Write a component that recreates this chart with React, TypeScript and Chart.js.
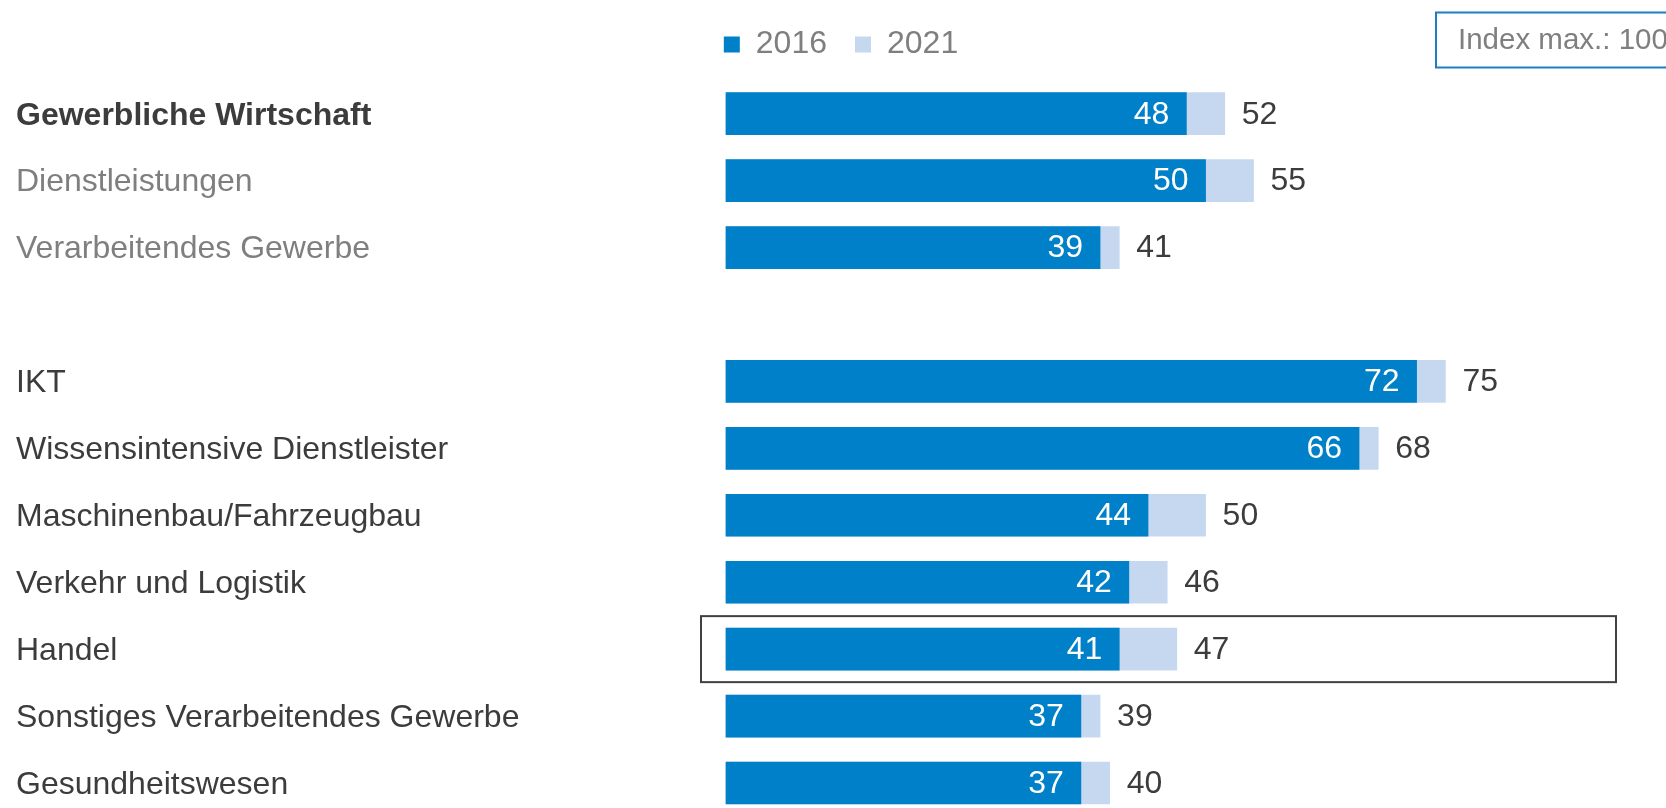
import React, { useEffect, useRef } from "react";
import { Chart, registerables } from "chart.js";

Chart.register(...registerables);

const categories = [
  "Gewerbliche Wirtschaft",
  "Dienstleistungen",
  "Verarbeitendes Gewerbe",
  "",
  "IKT",
  "Wissensintensive Dienstleister",
  "Maschinenbau/Fahrzeugbau",
  "Verkehr und Logistik",
  "Handel",
  "Sonstiges Verarbeitendes Gewerbe",
  "Gesundheitswesen",
];
const values2016: (number | null)[] = [48, 50, 39, null, 72, 66, 44, 42, 41, 37, 37];
const values2021: (number | null)[] = [52, 55, 41, null, 75, 68, 50, 46, 47, 39, 40];
const seriesLabels = ["2016", "2021"];
const highlightCategory = "Handel";
const indexNote = "Index max.: 100";

const FONT = "'Liberation Sans', Arial, sans-serif";
const BLUE = "#0080C8";
const LIGHT = "#C5D8F0";
const DARK = "#3C3C3C";
const GRAY = "#7F7F7F";

const overlayPlugin = {
  id: "overlay",
  afterDatasetsDraw(chart: any) {
    const ctx = chart.ctx;
    const m0 = chart.getDatasetMeta(0);
    const m1 = chart.getDatasetMeta(1);
    ctx.save();
    ctx.font = `32px ${FONT}`;
    ctx.textBaseline = "middle";
    m0.data.forEach((el: any, i: number) => {
      const v = values2016[i];
      if (v == null) return;
      ctx.fillStyle = "#FFFFFF";
      ctx.textAlign = "right";
      ctx.fillText(String(v), el.x - 17, el.y + 1);
    });
    m1.data.forEach((el: any, i: number) => {
      const v = values2021[i];
      if (v == null) return;
      ctx.fillStyle = DARK;
      ctx.textAlign = "left";
      ctx.fillText(String(v), el.x + 17, el.y + 1);
    });
    ctx.restore();
  },
  afterDraw(chart: any) {
    const ctx = chart.ctx;
    const area = chart.chartArea;
    const yScale = chart.scales.y;
    const hi = categories.indexOf(highlightCategory);
    const yc = yScale.getPixelForValue(hi);
    ctx.save();
    ctx.strokeStyle = "#404040";
    ctx.lineWidth = 2;
    ctx.strokeRect(area.left - 25, yc - 33, area.right - 50 - (area.left - 25), 66);
    // index note box
    ctx.strokeStyle = "#1B7FC4";
    ctx.lineWidth = 2;
    ctx.strokeRect(chart.width - 230, 12.5, 260, 55);
    ctx.fillStyle = GRAY;
    ctx.font = `29.5px ${FONT}`;
    ctx.textAlign = "left";
    ctx.textBaseline = "middle";
    ctx.fillText(indexNote, chart.width - 208, 41);
    ctx.restore();
  },
};

export default function App() {
  const ref = useRef<HTMLCanvasElement | null>(null);
  useEffect(() => {
    if (!ref.current) return;
    const chart = new Chart(ref.current, {
      type: "bar",
      data: {
        labels: categories,
        datasets: [
          {
            label: seriesLabels[0],
            data: values2016,
            backgroundColor: BLUE,
            borderWidth: 0,
            grouped: false,
            barThickness: 42,
            clip: false as any,
          },
          {
            label: seriesLabels[1],
            data: values2021,
            backgroundColor: LIGHT,
            borderWidth: 0,
            grouped: false,
            barThickness: 42,
            clip: false as any,
          },
        ],
      } as any,
      options: {
        indexAxis: "y",
        animation: false,
        responsive: true,
        maintainAspectRatio: false,
        layout: { padding: { left: 16, right: 0, top: 0.5, bottom: 25 } },
        scales: {
          x: { display: false, min: 0, max: 98 },
          y: {
            offset: false,
            grid: { display: false },
            border: { display: false },
            ticks: {
              autoSkip: false,
              crossAlign: "far",
              padding: 0,
              labelOffset: 2,
              color: (c: any) => (c.index === 1 || c.index === 2 ? GRAY : DARK),
              font: (c: any) => ({
                family: FONT,
                size: 32,
                weight: c.index === 0 ? "bold" : "normal",
              }),
            },
            afterFit: (s: any) => {
              s.width = 710;
            },
          } as any,
        },
        plugins: {
          legend: {
            position: "top",
            align: "center",
            labels: {
              boxWidth: 16,
              boxHeight: 16,
              padding: 28,
              color: GRAY,
              font: { family: FONT, size: 32 },
            },
          },
          title: {
            display: true,
            text: "",
            weight: 500,
            padding: 0,
            font: { size: 43.2, lineHeight: 1 },
          } as any,
          tooltip: { enabled: false },
        },
      },
      plugins: [overlayPlugin],
    });
    return () => chart.destroy();
  }, []);
  return (
    <div style={{ position: "fixed", left: 0, top: 0, width: 1666, height: 808, background: "#fff" }}>
      <canvas ref={ref} />
    </div>
  );
}
